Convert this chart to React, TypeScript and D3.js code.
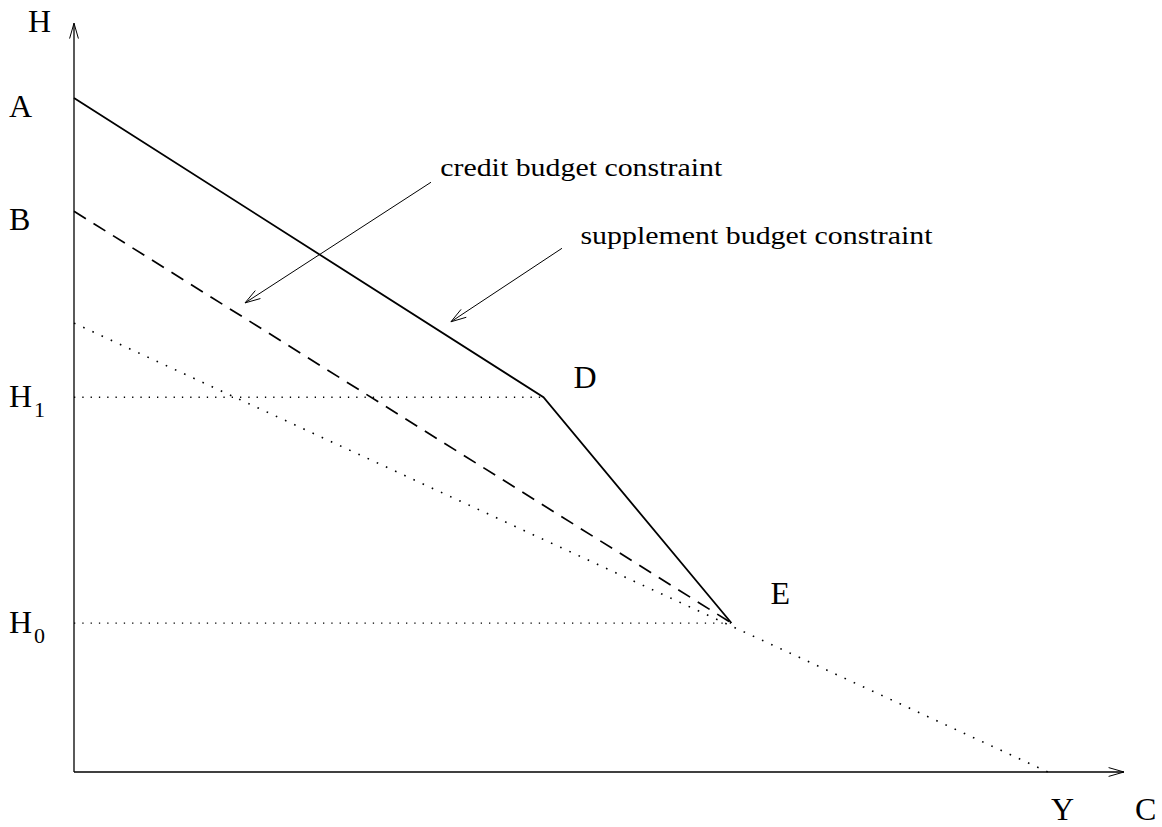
import React, { useEffect, useRef } from "react";
import * as d3 from "d3";

// diagram values in "chart units": consumption C on x (0..100), hours H on y (0..100)
const yAxisLabels = ["A", "B"];
const interceptA = 100; // supplement budget constraint at C = 0
const interceptB = 83.2; // credit budget constraint at C = 0
const interceptBase = 66.6; // base budget line at C = 0
const levelH1 = 55.6;
const levelH0 = 22.1;
const kinkD = [48.2, levelH1];
const kinkE = [67.5, levelH0];
const incomeY = 100;
const axisMax = [107.8, 111.1];

const supplementLine = [[0, interceptA], kinkD, kinkE];
const creditLine = [[0, interceptB], kinkE];
const baseLine = [[0, interceptBase], [incomeY, 0]];
const guideLines = [
  [[0, levelH1], kinkD],
  [[0, levelH0], kinkE],
];

const annotations = [
  { text: "credit budget constraint", at: [37.6, 88.5], from: [36.65, 87.5], to: [17.56, 69.6], len: 282 },
  { text: "supplement budget constraint", at: [52.0, 78.3], from: [50.1, 77.7], to: [38.7, 66.8], len: 352 },
];

const pointLabels = [
  { text: "D", at: kinkD, dx: 30, dy: -9 },
  { text: "E", at: kinkE, dx: 39, dy: -19 },
];

const width = 1162;
const height = 827;
const margin = { left: 74, right: 114, top: 98, bottom: 55 };
const font = "'Liberation Serif', 'Times New Roman', serif";

export default function App() {
  const svgRef = useRef<SVGSVGElement>(null);

  useEffect(() => {
    const svg = d3.select(svgRef.current);
    svg.selectAll("*").remove();

    const x = d3.scaleLinear().domain([0, 100]).range([margin.left, width - margin.right]);
    const y = d3.scaleLinear().domain([0, 100]).range([height - margin.bottom, margin.top]);
    const line = d3
      .line<number[]>()
      .x((d) => x(d[0]))
      .y((d) => y(d[1]));

    const arrowHead = (g, tip, from, size, spread) => {
      const ang = Math.atan2(from[1] - tip[1], from[0] - tip[0]);
      const p1 = [tip[0] + size * Math.cos(ang + spread), tip[1] + size * Math.sin(ang + spread)];
      const p2 = [tip[0] + size * Math.cos(ang - spread), tip[1] + size * Math.sin(ang - spread)];
      g.append("path")
        .attr("d", `M${p1[0]},${p1[1]}L${tip[0]},${tip[1]}L${p2[0]},${p2[1]}`)
        .attr("fill", "none")
        .attr("stroke", "#000")
        .attr("stroke-width", 1);
    };

    // axes
    const axes = svg.append("g");
    axes
      .append("line")
      .attr("x1", x(0))
      .attr("y1", y(0))
      .attr("x2", x(0))
      .attr("y2", y(axisMax[1]))
      .attr("stroke", "#000")
      .attr("stroke-width", 1.3);
    axes
      .append("line")
      .attr("x1", x(0))
      .attr("y1", y(0))
      .attr("x2", x(axisMax[0]))
      .attr("y2", y(0))
      .attr("stroke", "#000")
      .attr("stroke-width", 1.3);
    arrowHead(axes, [x(0), y(axisMax[1])], [x(0), y(0)], 16, 0.28);
    arrowHead(axes, [x(axisMax[0]), y(0)], [x(0), y(0)], 16, 0.28);

    // dotted guides and base line
    svg
      .append("g")
      .selectAll("path")
      .data(guideLines)
      .join("path")
      .attr("d", line)
      .attr("fill", "none")
      .attr("stroke", "#000")
      .attr("stroke-width", 1.3)
      .attr("stroke-dasharray", "1.3 7");

    svg
      .append("path")
      .attr("d", line(baseLine))
      .attr("fill", "none")
      .attr("stroke", "#000")
      .attr("stroke-width", 1.6)
      .attr("stroke-dasharray", "1.6 8.5");

    svg
      .append("path")
      .attr("d", line(creditLine))
      .attr("fill", "none")
      .attr("stroke", "#000")
      .attr("stroke-width", 1.7)
      .attr("stroke-dasharray", "14 9");

    svg
      .append("path")
      .attr("d", line(supplementLine))
      .attr("fill", "none")
      .attr("stroke", "#000")
      .attr("stroke-width", 1.8)
      .attr("stroke-linejoin", "miter");

    // annotation arrows
    annotations.forEach((a) => {
      const g = svg.append("g");
      const f = [x(a.from[0]), y(a.from[1])];
      const t = [x(a.to[0]), y(a.to[1])];
      g.append("line")
        .attr("x1", f[0])
        .attr("y1", f[1])
        .attr("x2", t[0])
        .attr("y2", t[1])
        .attr("stroke", "#000")
        .attr("stroke-width", 1);
      arrowHead(g, t, f, 16, 0.3);
      g.append("text")
        .attr("x", x(a.at[0]))
        .attr("y", y(a.at[1]))
        .attr("font-family", font)
        .attr("font-size", 25)
        .attr("textLength", a.len)
        .attr("lengthAdjust", "spacingAndGlyphs")
        .text(a.text);
    });

    // labels
    const labels = svg
      .append("g")
      .attr("font-family", font)
      .attr("font-size", 32)
      .attr("fill", "#000");

    labels.append("text").attr("x", 28).attr("y", y(axisMax[1]) + 9).text("H");
    [interceptA, interceptB].forEach((v, i) => {
      labels
        .append("text")
        .attr("x", 9)
        .attr("y", y(v) + 19)
        .text(yAxisLabels[i]);
    });
    [
      [levelH1, "1"],
      [levelH0, "0"],
    ].forEach(([v, sub]) => {
      const t = labels.append("text").attr("x", 9).attr("y", y(v as number) + 10);
      t.append("tspan").text("H");
      t.append("tspan").attr("font-size", 22).attr("dx", 2).attr("dy", 10).text(sub as string);
    });
    pointLabels.forEach((p) => {
      labels
        .append("text")
        .attr("x", x(p.at[0]) + p.dx)
        .attr("y", y(p.at[1]) + p.dy)
        .text(p.text);
    });
    labels.append("text").attr("x", x(incomeY) + 3).attr("y", y(0) + 48).text("Y");
    labels.append("text").attr("x", x(axisMax[0]) + 11).attr("y", y(0) + 48).text("C");
  }, []);

  return (
    <svg
      ref={svgRef}
      width={width}
      height={height}
      style={{ position: "absolute", left: 0, top: 0, background: "#fff" }}
    />
  );
}
